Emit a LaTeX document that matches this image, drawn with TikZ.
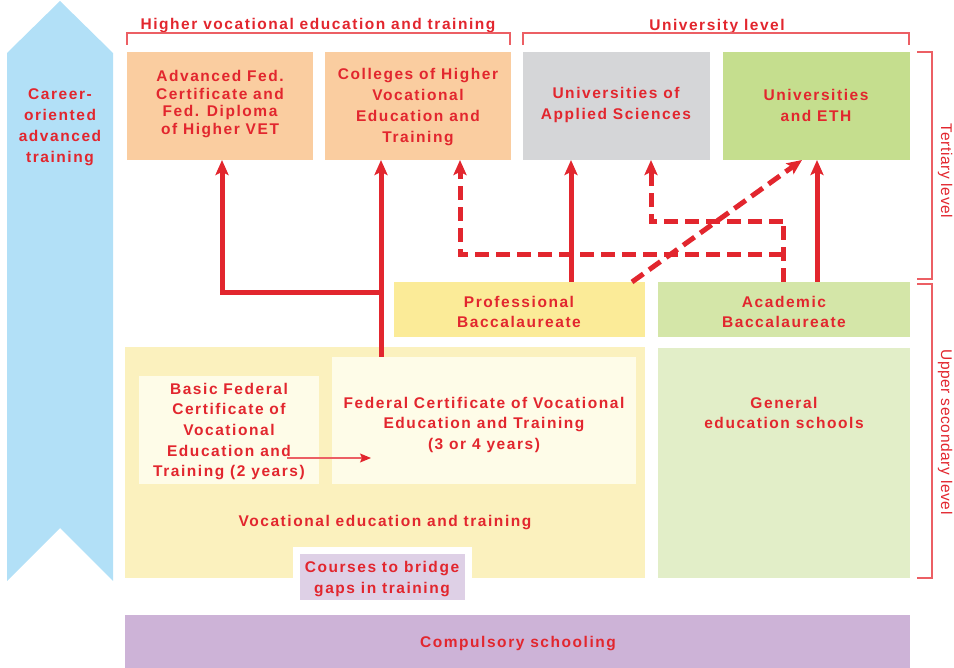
\documentclass[tikz,border=0pt]{standalone}
\usepackage{fontspec}
\setmainfont{Liberation Sans}[LetterSpace=10]
\newfontfamily\sidefont{Liberation Sans}[LetterSpace=4]
\usetikzlibrary{arrows.meta}
\definecolor{tred}{RGB}{226,38,46}
\definecolor{lred}{RGB}{236,95,100}
\definecolor{blueA}{RGB}{178,224,247}
\definecolor{orangeA}{RGB}{250,205,160}
\definecolor{greyA}{RGB}{213,214,216}
\definecolor{greenA}{RGB}{197,222,142}
\definecolor{yellowA}{RGB}{251,235,152}
\definecolor{greenB}{RGB}{212,230,168}
\definecolor{yellowB}{RGB}{251,241,190}
\definecolor{creamA}{RGB}{254,252,232}
\definecolor{greenC}{RGB}{226,238,200}
\definecolor{purpleA}{RGB}{222,208,230}
\definecolor{purpleB}{RGB}{205,179,215}
\tikzset{
  box/.style={anchor=north west, inner sep=0pt, outer sep=0pt},
  lbl/.style={inner sep=0pt, align=center, text=tred, font=\bfseries\fontsize{15.5}{20.5}\selectfont},
  sidelbl/.style={inner sep=0pt, text=tred, rotate=-90, font=\sidefont\fontsize{15.5}{18}\selectfont},
  brk/.style={draw=lred, line width=1.2pt},
  arr/.style={draw=tred, line width=5pt, -{Stealth[length=15pt,width=13pt,inset=3pt]}},
  darr/.style={arr, dash pattern=on 14pt off 7pt},
  dline/.style={draw=tred, line width=5pt, dash pattern=on 14pt off 7pt},
  thinarr/.style={draw=lred, line width=1.3pt, -{Stealth[length=11pt,width=9pt,inset=2pt,color=tred,fill=tred]}}
}
\begin{document}
\begin{tikzpicture}[x=1pt,y=-1pt]
\useasboundingbox (0,0) rectangle (954,668);
% career arrow
\fill[blueA] (7,53) -- (60,1) -- (113,53) -- (113,581) -- (60,528) -- (7,581) -- cycle;
\node[lbl, font=\bfseries\fontsize{15.5}{21}\selectfont] (career) at (60,127) {Career-\\oriented\\advanced\\training};
% header labels and brackets
\node[lbl] (hvet) at (318,26) {Higher vocational education and training};
\node[lbl] (uni) at (717,26) {University level};
\draw[brk] (127,45) -- (127,33) -- (510,33) -- (510,45);
\draw[brk] (523,45) -- (523,33) -- (909,33) -- (909,45);
\draw[brk] (917,52) -- (932,52) -- (932,279) -- (917,279);
\draw[brk] (917,284) -- (932,284) -- (932,578) -- (917,578);
\node[sidelbl] (tert) at (945,171) {Tertiary level};
\node[sidelbl] (usec) at (945,432) {Upper secondary level};
% tertiary boxes
\node[box, fill=orangeA, minimum width=186pt, minimum height=108pt] (b1) at (127,52) {};
\node[box, fill=orangeA, minimum width=186pt, minimum height=108pt] (b2) at (325,52) {};
\node[box, fill=greyA, minimum width=187pt, minimum height=108pt] (b3) at (523,52) {};
\node[box, fill=greenA, minimum width=187pt, minimum height=108pt] (b4) at (723,52) {};
\node[lbl, font=\bfseries\fontsize{15.5}{17.5}\selectfont] (b1t) at (220,104) {Advanced Fed.\\Certificate and\\Fed. Diploma\\of Higher VET};
\node[lbl, font=\bfseries\fontsize{15.5}{21}\selectfont] (b2t) at (418,107) {Colleges of Higher\\Vocational\\Education and\\Training};
\node[lbl, font=\bfseries\fontsize{15.5}{21}\selectfont] (b3t) at (616,105) {Universities of\\Applied Sciences};
\node[lbl, font=\bfseries\fontsize{15.5}{21}\selectfont] (b4t) at (816,105) {Universities\\and ETH};
% baccalaureates
\node[box, fill=yellowA, minimum width=251pt, minimum height=55pt] (pb) at (394,282) {};
\node[box, fill=greenB, minimum width=252pt, minimum height=55pt] (ab) at (658,282) {};
\node[lbl] (pbt) at (519,312) {Professional\\Baccalaureate};
\node[lbl] (abt) at (784,312) {Academic\\Baccalaureate};
% upper secondary
\node[box, fill=yellowB, minimum width=520pt, minimum height=231pt] (vet) at (125,347) {};
\node[lbl] (vetl) at (385,523) {Vocational education and training};
\node[box, fill=creamA, minimum width=180pt, minimum height=108pt] (basic) at (139,376) {};
\node[lbl, font=\bfseries\fontsize{15.5}{20.7}\selectfont] (basict) at (229,431.5) {Basic Federal\\Certificate of\\Vocational\\Education and\\Training (2 years)};
\node[box, fill=creamA, minimum width=304pt, minimum height=127pt] (fc) at (332,357) {};
\node[lbl] (fct) at (484,424.5) {Federal Certificate of Vocational\\Education and Training\\(3 or 4 years)};
\node[box, fill=greenC, minimum width=252pt, minimum height=230pt] (ge) at (658,348) {};
\node[lbl, font=\bfseries\fontsize{15.5}{20.5}\selectfont] (gel) at (784,413) {General\\education schools};
\node[box, fill=purpleA, draw=white, line width=7pt, minimum width=172pt, minimum height=53pt] (cb) at (296,550) {};
\node[lbl, font=\bfseries\fontsize{15.5}{21}\selectfont] (cbt) at (382,579) {Courses to bridge\\gaps in training};
\node[box, fill=purpleB, minimum width=785pt, minimum height=53pt] (cs) at (125,615) {};
\node[lbl] (cst) at (518,644) {Compulsory schooling};
% connectors
\coordinate (j1) at (381,293);
\coordinate (a1) at (222,293);
\coordinate (p1) at (571,0);
\coordinate (q1) at (817,0);
\coordinate (d1) at (783,222);
\coordinate (d2) at (651,222);
\coordinate (d3) at (783,255);
\coordinate (d4) at (460,255);
\coordinate (g1) at (632,0);
\coordinate (g2) at (802,0);
\coordinate (t1) at (287,458);
\coordinate (t2) at (371,458);
\draw[dline] (ab.north -| d1) -- (d1);
\draw[darr] (d1) -- (d2) -- (b3.south -| d2);
\draw[darr] (d3) -- (d4) -- (b2.south -| d4);
\draw[darr] (pb.north -| g1) -- (b4.south -| g2);
\draw[arr] (fc.north -| j1) -- (b2.south -| j1);
\draw[arr, line join=miter] (j1) -- (a1) -- (b1.south -| a1);
\draw[arr] (pb.north -| p1) -- (b3.south -| p1);
\draw[arr] (ab.north -| q1) -- (b4.south -| q1);
\draw[thinarr] (t1) -- (t2);
\end{tikzpicture}
\end{document}
